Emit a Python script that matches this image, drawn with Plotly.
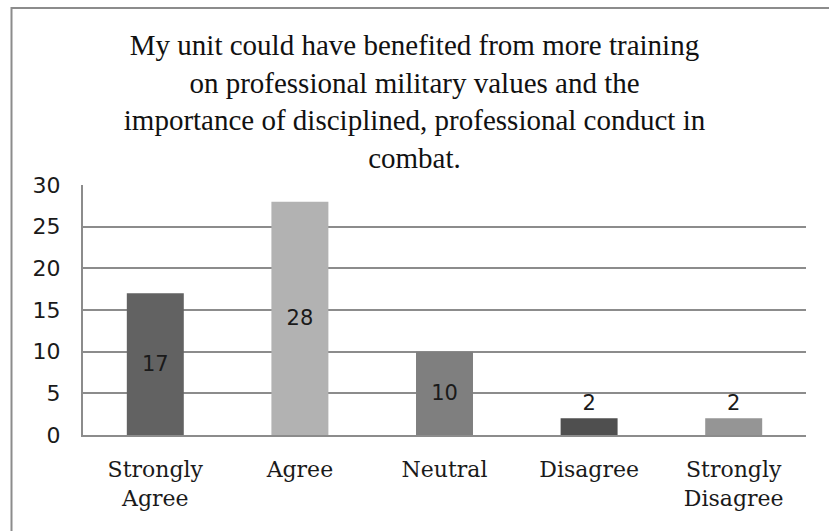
import plotly.graph_objects as go

categories = ["Strongly<br>Agree", "Agree", "Neutral", "Disagree", "Strongly<br>Disagree"]
values = [17, 28, 10, 2, 2]
bar_colors = ["#626262", "#b2b2b2", "#7f7f7f", "#4f4f4f", "#959595"]
text_positions = ["inside", "inside", "inside", "outside", "outside"]
y_ticks = [0, 5, 10, 15, 20, 25, 30]
title_text = ("My unit could have benefited from more training<br>"
              "on professional military values and the<br>"
              "importance of disciplined, professional conduct in<br>"
              "combat.")

W, H = 829, 531
L, R, T, B = 83, 23, 185, 96

fig = go.Figure(go.Bar(
    x=categories, y=values,
    marker=dict(color=bar_colors, line=dict(width=0)),
    text=[str(v) for v in values],
    textposition=text_positions,
    insidetextanchor="middle",
    textfont=dict(family="DejaVu Sans", size=21, color="#1a1a1a"),
    cliponaxis=False,
))

plot_w = W - L - R
plot_h = H - T - B
fig.update_layout(
    width=W, height=H,
    margin=dict(l=L, r=R, t=T, b=B, pad=0),
    paper_bgcolor="white", plot_bgcolor="white",
    bargap=0.606,
    showlegend=False,
    title=dict(text=title_text, x=0.5, xanchor="center", xref="container",
               y=1 - 55 / H, yanchor="top", yref="container",
               font=dict(family="Liberation Serif", size=29, color="#111111")),
    xaxis=dict(showgrid=False, showline=True, linecolor="#8c8c8c", linewidth=2,
               ticks="", ticklabelstandoff=14,
               tickfont=dict(family="DejaVu Serif", size=22, color="#1a1a1a")),
    yaxis=dict(range=[0, 30], tickvals=y_ticks, showgrid=True, gridcolor="#8c8c8c",
               gridwidth=2, showline=True, linecolor="#8c8c8c", linewidth=2,
               zeroline=False, ticks="", ticklabelstandoff=16,
               tickfont=dict(family="DejaVu Sans", size=22, color="#1a1a1a")),
    shapes=[dict(type="rect", xref="paper", yref="paper",
                 x0=(11.5 - L) / plot_w, x1=1.2,
                 y0=-0.6, y1=(H - B - 8) / plot_h,
                 line=dict(color="#8c8c8c", width=2), layer="below")],
)

fig.write_html("out.html", config={"displayModeBar": False},
               post_script="document.body.style.margin='0';")
